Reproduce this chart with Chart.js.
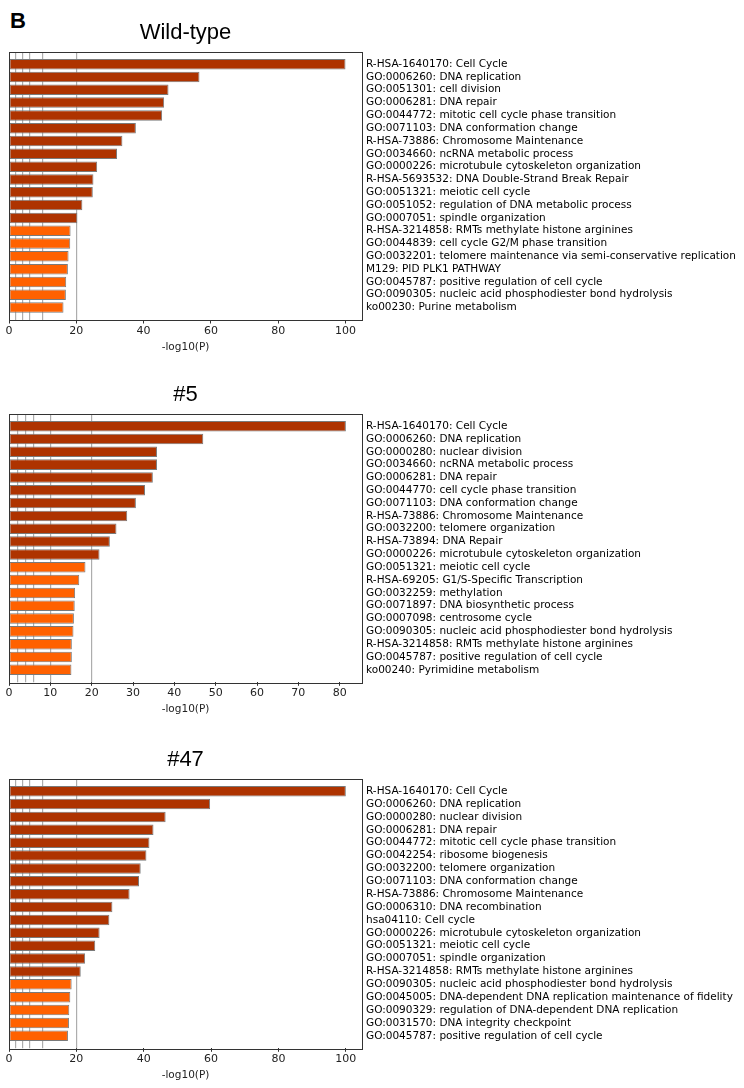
<!DOCTYPE html>
<html>
<head>
<meta charset="utf-8">
<script src="https://cdn.jsdelivr.net/npm/chart.js@4/dist/chart.umd.min.js"></script>
<style>
  html, body { margin: 0; padding: 0; background: #fff; }
  body { width: 744px; height: 1088px; position: relative; overflow: hidden; }
  .panel { position: absolute; left: 0; width: 744px; height: 360px; }
  #letter { position: absolute; left: 10px; top: 8px; font: bold 22px "Liberation Sans", Arial, sans-serif; color: #000; }
</style>
</head>
<body>
<div id="letter">B</div>
<div class="panel" style="top:0px"><canvas id="wt" width="744" height="360"></canvas></div>
<div class="panel" style="top:362px"><canvas id="c5" width="744" height="360"></canvas></div>
<div class="panel" style="top:727px"><canvas id="c47" width="744" height="360"></canvas></div>
<script>
// Enriched terms, -log10(P), one list per clone. Dark bars are the top group.
const wtNames = [
    "R-HSA-1640170: Cell Cycle",
    "GO:0006260: DNA replication",
    "GO:0051301: cell division",
    "GO:0006281: DNA repair",
    "GO:0044772: mitotic cell cycle phase transition",
    "GO:0071103: DNA conformation change",
    "R-HSA-73886: Chromosome Maintenance",
    "GO:0034660: ncRNA metabolic process",
    "GO:0000226: microtubule cytoskeleton organization",
    "R-HSA-5693532: DNA Double-Strand Break Repair",
    "GO:0051321: meiotic cell cycle",
    "GO:0051052: regulation of DNA metabolic process",
    "GO:0007051: spindle organization",
    "R-HSA-3214858: RMTs methylate histone arginines",
    "GO:0044839: cell cycle G2/M phase transition",
    "GO:0032201: telomere maintenance via semi-conservative replication",
    "M129: PID PLK1 PATHWAY",
    "GO:0045787: positive regulation of cell cycle",
    "GO:0090305: nucleic acid phosphodiester bond hydrolysis",
    "ko00230: Purine metabolism",
];
const wtValues = [100, 56.6, 47.4, 46.1, 45.5, 37.7, 33.7, 32.1, 26.2, 25.1,
                  24.9, 21.8, 20.3, 18.3, 18.2, 17.7, 17.5, 17.0, 16.9, 16.2];
const wtDark = 13;

const c5Names = [
    "R-HSA-1640170: Cell Cycle",
    "GO:0006260: DNA replication",
    "GO:0000280: nuclear division",
    "GO:0034660: ncRNA metabolic process",
    "GO:0006281: DNA repair",
    "GO:0044770: cell cycle phase transition",
    "GO:0071103: DNA conformation change",
    "R-HSA-73886: Chromosome Maintenance",
    "GO:0032200: telomere organization",
    "R-HSA-73894: DNA Repair",
    "GO:0000226: microtubule cytoskeleton organization",
    "GO:0051321: meiotic cell cycle",
    "R-HSA-69205: G1/S-Specific Transcription",
    "GO:0032259: methylation",
    "GO:0071897: DNA biosynthetic process",
    "GO:0007098: centrosome cycle",
    "GO:0090305: nucleic acid phosphodiester bond hydrolysis",
    "R-HSA-3214858: RMTs methylate histone arginines",
    "GO:0045787: positive regulation of cell cycle",
    "ko00240: Pyrimidine metabolism",
];
const c5Values = [81.5, 47.0, 35.8, 35.8, 34.8, 32.9, 30.7, 28.6, 26.0, 24.4,
                  21.9, 18.5, 17.0, 16.0, 15.9, 15.7, 15.6, 15.2, 15.2, 15.1];
const c5Dark = 11;

const c47Names = [
    "R-HSA-1640170: Cell Cycle",
    "GO:0006260: DNA replication",
    "GO:0000280: nuclear division",
    "GO:0006281: DNA repair",
    "GO:0044772: mitotic cell cycle phase transition",
    "GO:0042254: ribosome biogenesis",
    "GO:0032200: telomere organization",
    "GO:0071103: DNA conformation change",
    "R-HSA-73886: Chromosome Maintenance",
    "GO:0006310: DNA recombination",
    "hsa04110: Cell cycle",
    "GO:0000226: microtubule cytoskeleton organization",
    "GO:0051321: meiotic cell cycle",
    "GO:0007051: spindle organization",
    "R-HSA-3214858: RMTs methylate histone arginines",
    "GO:0090305: nucleic acid phosphodiester bond hydrolysis",
    "GO:0045005: DNA-dependent DNA replication maintenance of fidelity",
    "GO:0090329: regulation of DNA-dependent DNA replication",
    "GO:0031570: DNA integrity checkpoint",
    "GO:0045787: positive regulation of cell cycle",
];
const c47Values = [100, 59.7, 46.5, 42.9, 41.7, 40.8, 39.1, 38.6, 35.8, 30.7,
                   29.8, 26.9, 25.6, 22.6, 21.3, 18.6, 18.2, 17.9, 17.8, 17.5];
const c47Dark = 15;

// axis ticks and the light reference lines
const ticks20 = [0, 20, 40, 60, 80, 100];
const ticks10 = [0, 10, 20, 30, 40, 50, 60, 70, 80];
const refLines = [2, 4, 6, 10, 20];

Chart.defaults.font.family = "'DejaVu Sans', sans-serif";
Chart.defaults.color = "#000";

const DARK = "#ae3300";
const ORANGE = "#ff6100";

// matplotlib-style box around the plot area
const framePlugin = {
    id: "frame",
    afterDatasetsDraw(chart) {
        const a = chart.chartArea;
        const ctx = chart.ctx;
        ctx.save();
        ctx.strokeStyle = "#333";
        ctx.lineWidth = 1;
        ctx.strokeRect(Math.round(a.left) + 0.5, Math.round(a.top) + 0.5,
                       Math.round(a.right - a.left), Math.round(a.bottom - a.top));
        ctx.restore();
    },
};

function drawPanel(id, title, names, values, dark, xMax, xTicks, padBottom) {
    const pad = 0.97;
    new Chart(document.getElementById(id), {
        type: "bar",
        data: {
            datasets: [{
                data: values.map((v, i) => ({ x: v, y: i })),
                backgroundColor: values.map((v, i) => i < dark ? DARK : ORANGE),
                borderColor: "#7a7a7a",
                borderWidth: 1,
                borderSkipped: false,
                categoryPercentage: 1,
                barPercentage: 0.82,
            }],
        },
        options: {
            indexAxis: "y",
            responsive: false,
            animation: false,
            layout: { padding: { left: 9, right: 0, top: 0, bottom: padBottom } },
            plugins: {
                legend: { display: false },
                tooltip: { enabled: false },
                title: {
                    display: true,
                    text: title,
                    fullSize: false,
                    font: { family: "'Liberation Sans', Arial, sans-serif", size: 22, weight: "normal", lineHeight: 1.2 },
                    color: "#000",
                    padding: { top: 19.3, bottom: 6 },
                },
            },
            scales: {
                x: {
                    type: "linear",
                    position: "bottom",
                    min: 0,
                    max: xMax,
                    afterBuildTicks: (s) => { s.ticks = xTicks.map((v) => ({ value: v })); },
                    grid: { drawOnChartArea: false, drawTicks: true, tickLength: 3.5, tickColor: "#333" },
                    border: { display: false },
                    ticks: { font: { size: 11 }, color: "#222", padding: 1, maxRotation: 0 },
                    title: { display: true, text: "-log10(P)", font: { size: 10.5 }, color: "#222", padding: { top: 2, bottom: 2 } },
                },
                xg: {
                    type: "linear",
                    position: "top",
                    min: 0,
                    max: xMax,
                    afterBuildTicks: (s) => { s.ticks = refLines.map((v) => ({ value: v })); },
                    grid: { drawOnChartArea: true, drawTicks: false, color: "#adadad", lineWidth: 1.2 },
                    border: { display: false },
                    ticks: { display: false },
                },
                y: {
                    type: "linear",
                    position: "right",
                    reverse: true,
                    offset: false,
                    min: -pad,
                    max: names.length - 1 + pad,
                    afterBuildTicks: (s) => { s.ticks = names.map((n, i) => ({ value: i })); },
                    afterFit: (s) => { s.width = 382; },
                    grid: { display: false, drawTicks: false },
                    border: { display: false },
                    ticks: {
                        font: { size: 10.5 },
                        color: "#000",
                        padding: 4,
                        autoSkip: false,
                        callback: (v) => names[v],
                    },
                },
            },
        },
        plugins: [framePlugin],
    });
}

drawPanel("wt", "Wild-type", wtNames, wtValues, wtDark, 104.9, ticks20, 4.7);
drawPanel("c5", "#5", c5Names, c5Values, c5Dark, 85.4, ticks10, 4.4);
drawPanel("c47", "#47", c47Names, c47Values, c47Dark, 104.8, ticks20, 3.4);
</script>
</body>
</html>
